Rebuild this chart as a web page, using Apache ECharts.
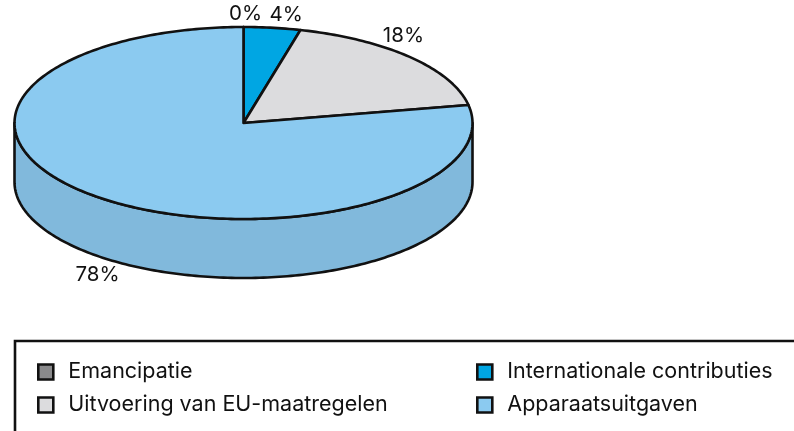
<!DOCTYPE html>
<html>
<head>
<meta charset="utf-8">
<style>html,body{margin:0;padding:0;background:#fff}#c{width:794px;height:431px}</style>
<script src="https://cdn.jsdelivr.net/npm/echarts@6/dist/echarts.min.js"></script>
</head>
<body>
<div id="c"></div>
<script>
const categories = ['Emancipatie', 'Internationale contributies', 'Uitvoering van EU-maatregelen', 'Apparaatsuitgaven'];
const shares = [0, 4, 18, 78];
const topColors = ['#8a8a8c', '#00a6e3', '#dcdcde', '#8bcaf0'];
const wallColors = ['#77777a', '#0090c5', '#bfbfc2', '#81b9dc'];
const labelNudges = [[2, -13], [14, -13], [-7, -21], [0, 19]];
const legendLeft = ['Emancipatie', 'Uitvoering van EU-maatregelen'];
const legendRight = ['Internationale contributies', 'Apparaatsuitgaven'];

const FONT = 'Inter';
const INK = '#111';
const CX = 243.5, CY = 123, RX = 229, RY = 96, DEPTH = 59;
const total = shares.reduce((a, b) => a + b, 0);
const pt = (deg, dy) => {
  const r = deg * Math.PI / 180;
  return [CX + RX * Math.sin(r), CY - RY * Math.cos(r) + (dy || 0)];
};
const arc = (a, b, dy) => {
  const out = [];
  const steps = Math.max(1, Math.ceil(Math.abs(b - a)));
  for (let i = 0; i <= steps; i++) out.push(pt(a + (b - a) * i / steps, dy));
  return out;
};

const series = categories.map((name, i) => {
  const before = shares.slice(0, i).reduce((a, b) => a + b, 0);
  const start = before / total * 360;
  const end = (before + shares[i]) / total * 360;
  return {
    type: 'custom',
    name,
    coordinateSystem: 'none',
    silent: true,
    animation: false,
    itemStyle: { color: topColors[i] },
    data: [[shares[i]]],
    renderItem: () => {
      const children = [];
      const wa = Math.max(start, 90), wb = Math.min(end, 270);
      if (wb > wa) {
        children.push({
          type: 'polygon',
          shape: { points: arc(wa, wb, 0).concat(arc(wb, wa, DEPTH)) },
          style: { fill: wallColors[i], stroke: INK, lineWidth: 2.6, lineJoin: 'round' }
        });
      }
      children.push({
        type: 'polygon',
        shape: { points: [[CX, CY]].concat(arc(start, end, 0)) },
        style: { fill: topColors[i], stroke: INK, lineWidth: 2.6, lineJoin: 'round' }
      });
      const midAngle = (start + end) / 2;
      const mid = pt(midAngle, midAngle > 90 && midAngle < 270 ? DEPTH : 0);
      children.push({
        type: 'text',
        z2: 10,
        style: {
          text: shares[i] + '%',
          x: mid[0] + labelNudges[i][0],
          y: mid[1] + labelNudges[i][1],
          align: 'center',
          verticalAlign: 'middle',
          font: '20.5px ' + FONT,
          fill: INK
        }
      });
      return { type: 'group', children };
    }
  };
});

const legendBase = {
  orient: 'vertical',
  top: 356,
  icon: 'rect',
  itemWidth: 15,
  itemHeight: 15,
  itemGap: 11,
  selectedMode: false,
  itemStyle: { borderColor: INK, borderWidth: 2.6 },
  textStyle: { fontFamily: FONT, fontSize: 21.5, color: INK, padding: [0, 0, 0, 10] }
};

const chart = echarts.init(document.getElementById('c'), null, { renderer: 'canvas' });
chart.setOption({
  animation: false,
  backgroundColor: '#fff',
  legend: [
    Object.assign({}, legendBase, { left: 32, data: legendLeft }),
    Object.assign({}, legendBase, { left: 471, data: legendRight })
  ],
  graphic: [{
    type: 'polyline',
    silent: true,
    shape: { points: [[15, 431], [15, 341], [794, 341]] },
    style: { fill: 'none', stroke: INK, lineWidth: 2.6 }
  }],
  series
});
</script>
</body>
</html>
